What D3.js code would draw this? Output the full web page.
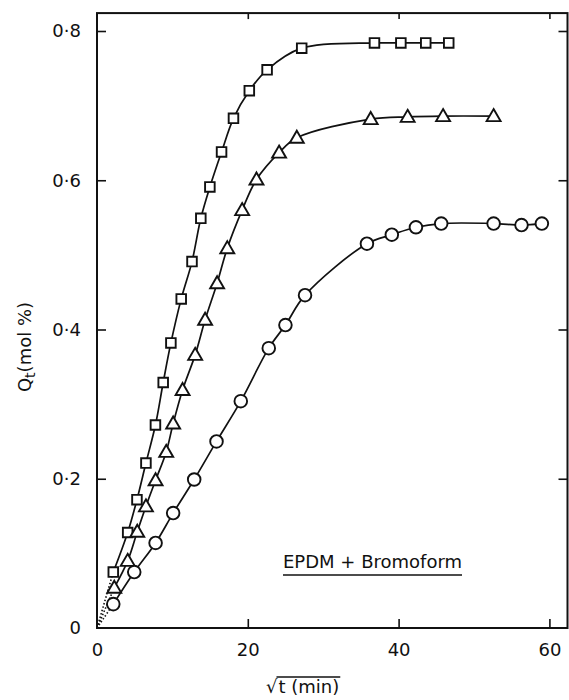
<!DOCTYPE html>
<html><head><meta charset="utf-8">
<script src="https://cdn.jsdelivr.net/npm/d3@7"></script>
<style>
html,body{margin:0;padding:0;background:#fff;}
svg{display:block;font-family:"DejaVu Sans",sans-serif;}
</style></head>
<body>
<script>
// Data (x = sqrt(t) in min^0.5, y = Qt in mol %)
const squareX = [2.16,4.07,5.30,6.49,7.75,8.78,9.80,11.17,12.6,13.77,14.97,16.52,18.1,20.2,22.56,27.15,36.8,40.3,43.6,46.65];
const squareY = [0.075,0.128,0.172,0.221,0.272,0.329,0.382,0.441,0.491,0.549,0.591,0.638,0.683,0.720,0.748,0.777,0.784,0.784,0.784,0.784];
const triangleX = [2.29,4.07,5.34,6.49,7.77,9.18,10.1,11.35,13.02,14.34,15.93,17.28,19.25,21.15,24.15,26.5,36.3,41.2,45.9,52.6];
const triangleY = [0.054,0.090,0.129,0.163,0.198,0.236,0.274,0.319,0.366,0.413,0.462,0.509,0.560,0.601,0.637,0.657,0.682,0.685,0.686,0.686];
const circleX = [2.16,4.94,7.77,10.1,12.89,15.85,19.07,22.78,24.99,27.59,35.8,39.1,42.3,45.65,52.6,56.3,59.0];
const circleY = [0.032,0.075,0.114,0.154,0.199,0.250,0.304,0.375,0.406,0.446,0.515,0.527,0.537,0.542,0.542,0.540,0.542];
const xTicks = [0,20,40,60];
const yTicks = [0,0.2,0.4,0.6,0.8];
const xLabel = "t (min)";
const yLabel = "(mol %)";
const legendText = "EPDM + Bromoform";

const W = 569, H = 700;
const svg = d3.select("body").append("svg").attr("width", W).attr("height", H);

const x = d3.scaleLinear().domain([0, 62.4]).range([97, 567.5]);
const y = d3.scaleLinear().domain([0, 0.8]).range([628, 31]);
const yTop = 0.824;

const ink = "#111";
const fs = "18px";
const fmt = d => d === 0 ? "0" : d3.format(".1f")(d).replace(".", "\u00b7");

// frame
svg.append("rect").attr("x", x(0)).attr("y", y(yTop))
  .attr("width", x(62.4) - x(0)).attr("height", y(0) - y(yTop))
  .attr("fill", "none").attr("stroke", ink).attr("stroke-width", 2);

// axes
const axLeft = svg.append("g").attr("transform", `translate(${x(0)},0)`)
  .call(d3.axisLeft(y).tickValues(yTicks).tickFormat(fmt).tickSizeInner(-9).tickSizeOuter(0).tickPadding(16));
const axBottom = svg.append("g").attr("transform", `translate(0,${y(0)})`)
  .call(d3.axisBottom(x).tickValues(xTicks).tickFormat(d3.format("d")).tickSizeInner(-9).tickSizeOuter(0).tickPadding(15));
const axRight = svg.append("g").attr("transform", `translate(${x(62.4)},0)`)
  .call(d3.axisRight(y).tickValues(yTicks.slice(1)).tickFormat("").tickSizeInner(-9).tickSizeOuter(0));
const axTop = svg.append("g").attr("transform", `translate(0,${y(yTop)})`)
  .call(d3.axisTop(x).tickValues(xTicks.slice(1)).tickFormat("").tickSizeInner(-6).tickSizeOuter(0));
[axLeft, axBottom, axRight, axTop].forEach(g => {
  g.select(".domain").remove();
  g.selectAll(".tick line").attr("stroke", ink).attr("stroke-width", 1.6);
  g.selectAll("text").attr("fill", ink).style("font-size", fs).style("font-family", "DejaVu Sans, sans-serif");
});
axBottom.selectAll(".tick").filter(d => d === 0).select("line").remove();
axLeft.selectAll(".tick").filter(d => d === 0).select("line").remove();

// series
const series = [
  {xs: squareX, ys: squareY, shape: "square"},
  {xs: triangleX, ys: triangleY, shape: "triangle"},
  {xs: circleX, ys: circleY, shape: "circle"}
];
const line = d3.line().x(d => x(d[0])).y(d => y(d[1])).curve(d3.curveCatmullRom.alpha(0.5));

series.forEach(s => {
  const pts = s.xs.map((v, i) => [v, s.ys[i]]);
  // dotted extension to origin
  svg.append("path").attr("d", d3.line().x(d => x(d[0])).y(d => y(d[1]))([[0, 0], pts[0]]))
    .attr("fill", "none").attr("stroke", ink).attr("stroke-width", 1.6).attr("stroke-dasharray", "1.5,2");
  svg.append("path").attr("d", line(pts))
    .attr("fill", "none").attr("stroke", ink).attr("stroke-width", 1.7);
  const sym = s.shape === "square" ? d3.symbolSquare : s.shape === "triangle" ? d3.symbolTriangle : d3.symbolCircle;
  const size = s.shape === "square" ? 92 : s.shape === "triangle" ? 84 : 125;
  svg.append("g").selectAll("path").data(pts).join("path")
    .attr("transform", d => `translate(${x(d[0])},${y(d[1]) + (s.shape === "triangle" ? 1 : 0)})`)
    .attr("d", d3.symbol().type(sym).size(size))
    .attr("fill", "#fff").attr("stroke", ink).attr("stroke-width", 1.9);
});

// legend text
const lg = svg.append("text").attr("x", 283).attr("y", 568)
  .attr("fill", ink).style("font-size", fs).text(legendText);
const lw = lg.node().getComputedTextLength();
svg.append("line").attr("x1", 283).attr("x2", 283 + lw).attr("y1", 575).attr("y2", 575)
  .attr("stroke", ink).attr("stroke-width", 1.6);

// x-axis title: sqrt sign with overbar
const xt = svg.append("text").attr("x", 266).attr("y", 693).attr("fill", ink).style("font-size", fs);
xt.append("tspan").text("\u221a");
xt.append("tspan").attr("dx", 1).text(xLabel);
const bb = xt.node().getBBox();
const rootW = xt.node().getSubStringLength(0, 1);
svg.append("line").attr("x1", bb.x + rootW - 1).attr("x2", bb.x + bb.width + 1)
  .attr("y1", bb.y + 1).attr("y2", bb.y + 1).attr("stroke", ink).attr("stroke-width", 1.4);

// y-axis title
const yt = svg.append("text").attr("transform", "translate(31,347) rotate(-90)")
  .attr("text-anchor", "middle").attr("fill", ink).style("font-size", fs);
yt.append("tspan").text("Q");
yt.append("tspan").attr("dy", 4).style("font-size", "14px").text("t");
yt.append("tspan").attr("dy", -4).text(yLabel);
</script>
</body></html>
